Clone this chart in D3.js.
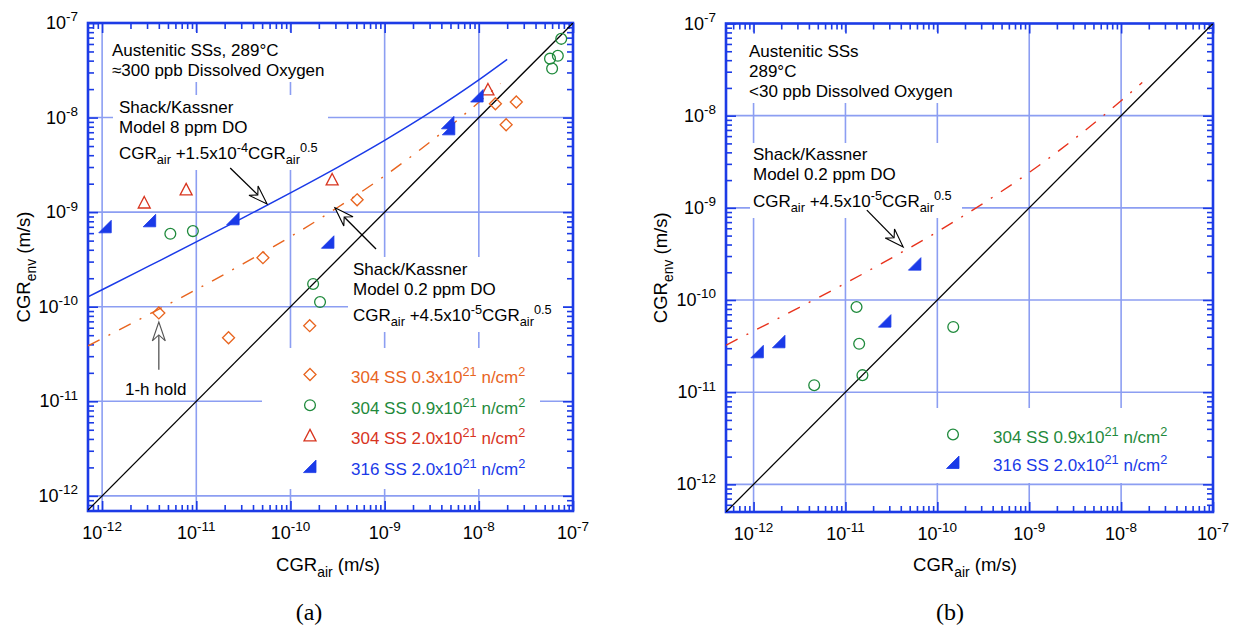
<!DOCTYPE html>
<html><head><meta charset="utf-8">
<script src="https://cdn.jsdelivr.net/npm/d3@7"></script>
<style>
body{margin:0;background:#fff}
svg{display:block}
text{font-family:"Liberation Sans",Arial,Helvetica,sans-serif;white-space:pre}
</style>
</head><body>
<svg id="c" width="1235" height="629"></svg>
<script>
// ---------------- DATA ----------------
const decadeValues = [1e-12, 1e-11, 1e-10, 1e-9, 1e-8, 1e-7];
const decadeLabels = ["-12", "-11", "-10", "-9", "-8", "-7"];

// Panel (a): ~300 ppb DO  [CGRair, CGRenv]
const a_304_03 = [[5.1e-11,3.3e-10],[4.0e-12,8.6e-11],[2.2e-11,4.7e-11],[1.6e-10,6.3e-11],[5.1e-10,1.35e-9],[1.5e-8,1.4e-8],[2.5e-8,1.46e-8],[1.95e-8,8.4e-9]];
const a_304_09 = [[5.3e-12,5.9e-10],[9.2e-12,6.3e-10],[1.74e-10,1.74e-10],[2.06e-10,1.12e-10],[7.5e-8,6.8e-8],[6.9e-8,4.5e-8],[5.7e-8,4.2e-8],[6.0e-8,3.3e-8]];
const a_304_20 = [[2.8e-12,1.25e-9],[7.8e-12,1.72e-9],[2.77e-10,2.19e-9],[1.25e-8,1.96e-8]];
const a_316_20 = [[1.08e-12,7.0e-10],[3.2e-12,8.1e-10],[2.46e-11,8.5e-10],[2.5e-10,4.8e-10],[4.7e-9,8.8e-9],[4.8e-9,7.6e-9],[9.6e-9,1.69e-8]];

// Panel (b): <30 ppb DO
const b_304_09 = [[1.32e-11,8.4e-11],[1.41e-11,3.35e-11],[1.53e-11,1.53e-11],[4.57e-12,1.19e-11],[1.49e-10,5.1e-11]];
const b_316_20 = [[1.1e-12,2.74e-11],[1.89e-12,3.52e-11],[2.69e-11,5.9e-11],[5.7e-11,2.45e-10]];

// Shack/Kassner model curves
const a_model8_x   = [7.08e-13,1e-12,3.16e-12,1e-11,3.16e-11,1e-10,3.16e-10,1e-9,3.16e-9,1e-8,2e-8];
const a_model8_y   = [1.27e-10,1.51e-10,2.70e-10,4.84e-10,8.75e-10,1.6e-9,2.98e-9,5.74e-9,1.16e-8,2.5e-8,4.12e-8];
const a_model02_x  = [7.08e-13,1e-12,3.16e-12,1e-11,3.16e-11,1e-10,3.16e-10,1e-9,3.16e-9,1e-8,1.7e-8];
const a_model02_y  = [3.86e-11,4.6e-11,8.32e-11,1.52e-10,2.85e-10,5.5e-10,1.12e-9,2.42e-9,5.69e-9,1.45e-8,2.29e-8];
const b_model02_x  = [5.01e-13,1e-12,3.16e-12,1e-11,3.16e-11,1e-10,3.16e-10,1e-9,3.16e-9,1e-8,1.7e-8];
const b_model02_y  = [3.24e-11,4.6e-11,8.32e-11,1.52e-10,2.85e-10,5.5e-10,1.12e-9,2.42e-9,5.69e-9,1.45e-8,2.29e-8];

// 1:1 lines
const a_diag = [[7.08e-13,7.08e-13],[1e-7,1e-7]];
const b_diag = [[5.01e-13,5.01e-13],[1e-7,1e-7]];

// Legend labels
const a_legend = ["304 SS 0.3x10", "304 SS 0.9x10", "304 SS 2.0x10", "316 SS 2.0x10"];
const b_legend = ["304 SS 0.9x10", "316 SS 2.0x10"];

// ---------------- STYLE ----------------
const FRAME = "#1c3be6", GRID = "#8c9ef2";
const C_ORANGE = "#e8641e", C_GREEN = "#1f8a3c", C_RED = "#d8341e", C_BLUE = "#1a3ae8", C_RED2 = "#e8321c";
const FONT = 17;

const svg = d3.select("#c");

function rich(sel, x, y, parts, size, anchor, fill) {
  const t = sel.append("text").attr("x", x).attr("y", y)
    .attr("font-size", size).attr("text-anchor", anchor || "start").attr("fill", fill || "#000");
  let cur = 0;
  parts.forEach(p => {
    const s = typeof p === "string" ? p : p[0];
    const m = typeof p === "string" ? "" : p[1];
    const target = m === "sup" ? -size * 0.42 : m === "sub" ? size * 0.3 : 0;
    const ts = t.append("tspan").attr("dy", target - cur).text(s);
    if (m) ts.attr("font-size", size * 0.75);
    cur = target;
  });
  return t;
}

const shapes = {
  diamond: "M0,-6L6,0L0,6L-6,0Z",
  tri: "M0,-6.5L6,5L-6,5Z",
  rtri: "M-6.5,6L6,6L6,-6.5Z"
};

function marker(g, type, cx, cy, color) {
  if (type === "circle") {
    g.append("circle").attr("cx", cx).attr("cy", cy).attr("r", 5.4)
      .attr("fill", "none").attr("stroke", color).attr("stroke-width", 1.3);
  } else if (type === "rtri") {
    g.append("path").attr("d", shapes.rtri).attr("transform", `translate(${cx},${cy})`)
      .attr("fill", color).attr("stroke", color).attr("stroke-width", 0.8);
  } else {
    g.append("path").attr("d", shapes[type]).attr("transform", `translate(${cx},${cy})`)
      .attr("fill", "none").attr("stroke", color).attr("stroke-width", 1.3);
  }
}

function arrow(g, x1, y1, x2, y2, color) {
  const dx = x2 - x1, dy = y2 - y1, L = Math.hypot(dx, dy);
  const ux = dx / L, uy = dy / L, px = -uy, py = ux;
  const len = 19, hw = 6.5, notch = 13;
  const bx = x2 - ux * len, by = y2 - uy * len;
  const nx = x2 - ux * notch, ny = y2 - uy * notch;
  g.append("line").attr("x1", x1).attr("y1", y1).attr("x2", nx).attr("y2", ny)
    .attr("stroke", color).attr("stroke-width", 1.3);
  g.append("path")
    .attr("d", `M${x2},${y2}L${bx + px * hw},${by + py * hw}L${nx},${ny}L${bx - px * hw},${by - py * hw}Z`)
    .attr("fill", "#fff").attr("stroke", color).attr("stroke-width", 1.1);
}

function panel(cfg) {
  const g = svg.append("g");
  const x = d3.scaleLog().domain(cfg.xd).range([cfg.x0, cfg.x1]);
  const y = d3.scaleLog().domain(cfg.yd).range([cfg.y1, cfg.y0]);
  const clipId = "clip" + cfg.id;
  g.append("clipPath").attr("id", clipId).append("rect")
    .attr("x", cfg.x0).attr("y", cfg.y0).attr("width", cfg.x1 - cfg.x0).attr("height", cfg.y1 - cfg.y0);

  // grid
  const gg = g.append("g").attr("stroke", GRID).attr("stroke-width", 1.6);
  decadeValues.forEach(v => {
    if (v > cfg.xd[0] && v < cfg.xd[1])
      gg.append("line").attr("x1", x(v)).attr("x2", x(v)).attr("y1", cfg.y0).attr("y2", cfg.y1);
    if (v > cfg.yd[0] && v < cfg.yd[1])
      gg.append("line").attr("y1", y(v)).attr("y2", y(v)).attr("x1", cfg.x0).attr("x2", cfg.x1);
  });
  // white backgrounds behind annotation text
  cfg.boxes.forEach(b => g.append("rect").attr("x", b[0]).attr("y", b[1]).attr("width", b[2]).attr("height", b[3]).attr("fill", "#fff"));

  // ticks via d3 axes
  const minor = [], major = [];
  for (let d = -13; d <= -7; d++) {
    for (let k = 1; k <= 9; k++) {
      const v = k * Math.pow(10, d);
      if (v >= cfg.xd[0] * 0.999 && v <= 1.0001e-7) (k === 1 ? major : minor).push(v);
    }
  }
  const styleAxis = s => { s.select(".domain").remove(); s.selectAll("line").attr("stroke", FRAME).attr("stroke-width", 1.6); s.selectAll("text").remove(); };
  const addAxis = (fn, scale, tr, vals, len) => g.append("g").attr("transform", tr)
    .call(fn(scale).tickValues(vals).tickSize(-len).tickFormat("")).call(styleAxis);
  [[minor, 6], [major, 10]].forEach(([vals, len]) => {
    addAxis(d3.axisBottom, x, `translate(0,${cfg.y1})`, vals, len);
    addAxis(d3.axisTop, x, `translate(0,${cfg.y0})`, vals, len);
    const yv = vals.filter(v => v >= cfg.yd[0] * 0.999);
    addAxis(d3.axisLeft, y, `translate(${cfg.x0},0)`, yv, len);
    addAxis(d3.axisRight, y, `translate(${cfg.x1},0)`, yv, len);
  });
  // frame
  g.append("rect").attr("x", cfg.x0).attr("y", cfg.y0).attr("width", cfg.x1 - cfg.x0).attr("height", cfg.y1 - cfg.y0)
    .attr("fill", "none").attr("stroke", FRAME).attr("stroke-width", 2.6);

  // tick labels
  decadeValues.forEach((v, i) => {
    rich(g, x(v), cfg.y1 + 28, ["10", [decadeLabels[i], "sup"]], 18, "middle", "#000");
    rich(g, cfg.x0 - 10, y(v) + 6, ["10", [decadeLabels[i], "sup"]], 18, "end", "#000");
  });
  // axis titles
  rich(g, cfg.xTitleX, 571, ["CGR", ["air", "sub"], " (m/s)"], 18.5, "middle", "#000");
  const yt = rich(g, 0, 0, ["CGR", ["env", "sub"], " (m/s)"], 18.5, "middle", "#000");
  yt.attr("transform", `translate(${cfg.yTitleX},${(cfg.y0 + cfg.y1) / 2}) rotate(-90)`);

  // lines
  const lg = g.append("g").attr("clip-path", `url(#${clipId})`);
  const line = d3.line().x(d => x(d[0])).y(d => y(d[1]));
  const cline = d3.line().x(d => x(d[0])).y(d => y(d[1])).curve(d3.curveMonotoneX);
  lg.append("path").attr("d", line(cfg.diag)).attr("fill", "none").attr("stroke", "#000").attr("stroke-width", 1.3);
  cfg.curves.forEach(c => {
    const pts = c.xs.map((v, i) => [v, c.ys[i]]);
    lg.append("path").attr("d", cline(pts)).attr("fill", "none").attr("stroke", c.color)
      .attr("stroke-width", c.dash ? 1.4 : 1.5).attr("stroke-dasharray", c.dash || null);
  });

  // markers
  cfg.series.forEach(s => s.data.forEach(d => marker(g, s.type, x(d[0]), y(d[1]), s.color)));

  // legend
  cfg.series.forEach((s, i) => {
    const by = cfg.legend.y + i * cfg.legend.step;
    marker(g, s.type, cfg.legend.mx, by - 8.5, s.color);
    rich(g, cfg.legend.tx, by, [s.label, ["21", "sup"], " n/cm", ["2", "sup"]], FONT, "start", s.color);
  });

  // annotations
  cfg.texts.forEach(t => rich(g, t[0], t[1], t[2], FONT, "start", "#000"));
  cfg.arrows.forEach(a => arrow(g, x(a[0][0]), y(a[0][1]), x(a[1][0]), y(a[1][1]), a[2]));

  // panel label
  g.append("text").attr("x", cfg.labelX).attr("y", 620).attr("text-anchor", "middle")
    .attr("font-size", 24).style("font-family", '"Liberation Serif","Times New Roman",serif').text(cfg.label);
}

const f8 = ["CGR", ["air", "sub"], " +1.5x10", ["-4", "sup"], "CGR", ["air", "sub"], ["0.5", "sup"]];
const f02 = ["CGR", ["air", "sub"], " +4.5x10", ["-5", "sup"], "CGR", ["air", "sub"], ["0.5", "sup"]];

panel({
  id: "a", x0: 88, x1: 573, y0: 23, y1: 511,
  xd: [Math.pow(10, -12.15), 1e-7], yd: [Math.pow(10, -12.16), 1e-7],
  xTitleX: 328, yTitleX: 30, label: "(a)", labelX: 309,
  boxes: [[108, 32, 222, 50], [113, 95, 215, 75], [348, 257, 215, 75], [262, 348, 278, 141]],
  diag: a_diag,
  curves: [
    { xs: a_model8_x, ys: a_model8_y, color: C_BLUE },
    { xs: a_model02_x, ys: a_model02_y, color: C_ORANGE, dash: "13,10,2,10" }
  ],
  series: [
    { data: a_304_03, type: "diamond", color: C_ORANGE, label: a_legend[0] },
    { data: a_304_09, type: "circle", color: C_GREEN, label: a_legend[1] },
    { data: a_304_20, type: "tri", color: C_RED, label: a_legend[2] },
    { data: a_316_20, type: "rtri", color: C_BLUE, label: a_legend[3] }
  ],
  legend: { mx: 310, tx: 351, y: 383, step: 30.7 },
  texts: [
    [112, 56, ["Austenitic SSs, 289°C"]],
    [112, 76, ["≈300 ppb Dissolved Oxygen"]],
    [119, 113, ["Shack/Kassner"]],
    [119, 133, ["Model 8 ppm DO"]],
    [119, 159, f8],
    [353, 275, ["Shack/Kassner"]],
    [353, 295, ["Model 0.2 ppm DO"]],
    [353, 321, f02],
    [125, 395, ["1-h hold"]]
  ],
  arrows: [
    [[2.29e-11, 2.93e-9], [5.65e-11, 1.22e-9], "#000"],
    [[8.1e-10, 4.08e-10], [2.97e-10, 1.11e-9], "#000"],
    [[4.0e-12, 2.15e-11], [4.0e-12, 6.9e-11], "#555"]
  ]
});

panel({
  id: "b", x0: 726, x1: 1213, y0: 23.5, y1: 512,
  xd: [Math.pow(10, -12.3), 1e-7], yd: [Math.pow(10, -12.3), 1e-7],
  xTitleX: 965, yTitleX: 667, label: "(b)", labelX: 950,
  boxes: [[745, 32, 217, 71], [750, 143, 212, 75], [930, 408, 282, 75]],
  diag: b_diag,
  curves: [
    { xs: b_model02_x, ys: b_model02_y, color: C_RED2, dash: "13,10,2,10" }
  ],
  series: [
    { data: b_304_09, type: "circle", color: C_GREEN, label: b_legend[0] },
    { data: b_316_20, type: "rtri", color: C_BLUE, label: b_legend[1] }
  ],
  legend: { mx: 953, tx: 993, y: 443, step: 28 },
  texts: [
    [749, 57, ["Austenitic SSs"]],
    [749, 77, ["289°C"]],
    [749, 97, ["<30 ppb Dissolved Oxygen"]],
    [753, 160, ["Shack/Kassner"]],
    [753, 180, ["Model 0.2 ppm DO"]],
    [753, 207, f02]
  ],
  arrows: [
    [[1.71e-11, 9.44e-10], [4.25e-11, 3.75e-10], "#000"]
  ]
});
</script>
</body></html>
